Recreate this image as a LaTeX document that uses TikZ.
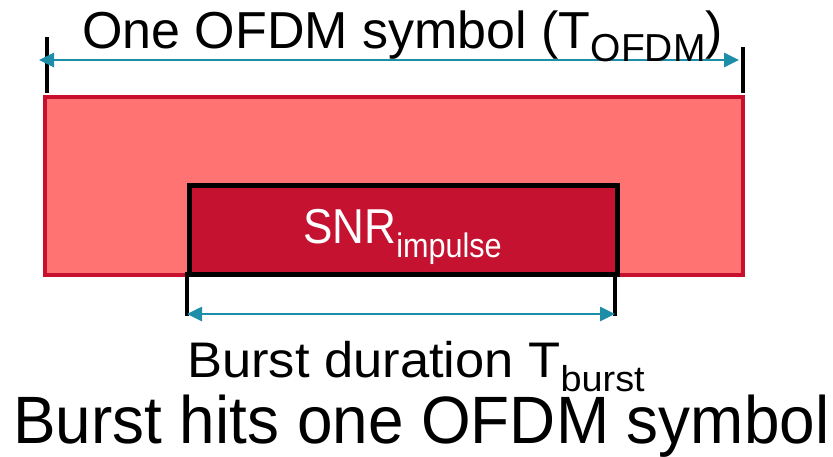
\documentclass[tikz,border=0pt]{standalone}
\usepackage{fontspec}
\setmainfont{Liberation Sans}
\usetikzlibrary{arrows.meta}
\definecolor{outerfill}{HTML}{FF7373}
\definecolor{outerline}{HTML}{C8102E}
\definecolor{innerfill}{HTML}{C41230}
\definecolor{teal}{HTML}{1E8EA8}
\tikzset{
  dimarrow/.style={draw=teal, line width=2.6pt, {Triangle[length=15pt,width=14pt]}-{Triangle[length=15pt,width=14pt]}},
  tickline/.style={draw=black, line width=3.5pt},
  lbl/.style={inner sep=0pt, anchor=base west, text=black},
}
\begin{document}
\begin{tikzpicture}[x=1pt,y=-1pt]
\useasboundingbox (0,0) rectangle (833,456);
% outer symbol box
\node[draw=outerline, fill=outerfill, line width=4pt, minimum width=698pt, minimum height=178pt, inner sep=0pt, anchor=north west] (sym) at (43,95) {};
% inner burst box
\node[draw=black, fill=innerfill, line width=4.5pt, minimum width=428pt, minimum height=89pt, inner sep=0pt, anchor=north west] (burst) at (187,183) {};
% ticks
\coordinate (tl0) at (47,37); \coordinate (tl1) at (47,93);
\coordinate (tr0) at (743,47); \coordinate (tr1) at (743,93);
\coordinate (bl0) at (187,272); \coordinate (bl1) at (187,316);
\coordinate (br0) at (615,272); \coordinate (br1) at (615,316);
\draw[tickline] (tl0) -- (tl1);
\draw[tickline] (tr0) -- (tr1);
\draw[tickline] (bl0) -- (bl1);
\draw[tickline] (br0) -- (br1);
% arrows
\coordinate (a0) at (39,60); \coordinate (a1) at (739,60);
\coordinate (b0) at (187,314); \coordinate (b1) at (615,314);
\draw[dimarrow] (a0) -- (a1);
\draw[dimarrow] (b0) -- (b1);
% labels
\node[lbl] (toplbl) at (82,48) {\fontsize{52}{60}\selectfont One OFDM symbol (T\raisebox{-13pt}{\fontsize{39}{44}\selectfont OFDM})};
\node[lbl, text=white, xscale=0.9] (snr) at (303,243) {\fontsize{49}{56}\selectfont SNR\raisebox{-14pt}{\fontsize{34}{40}\selectfont impulse}};
\node[lbl, xscale=1.05] (durlbl) at (187,377) {\fontsize{50}{58}\selectfont Burst duration T\raisebox{-14pt}{\fontsize{36}{42}\selectfont burst}};
\node[lbl, xscale=0.953] (title) at (13,443) {\fontsize{67}{76}\selectfont Burst hits one OFDM symbol};
\end{tikzpicture}
\end{document}
